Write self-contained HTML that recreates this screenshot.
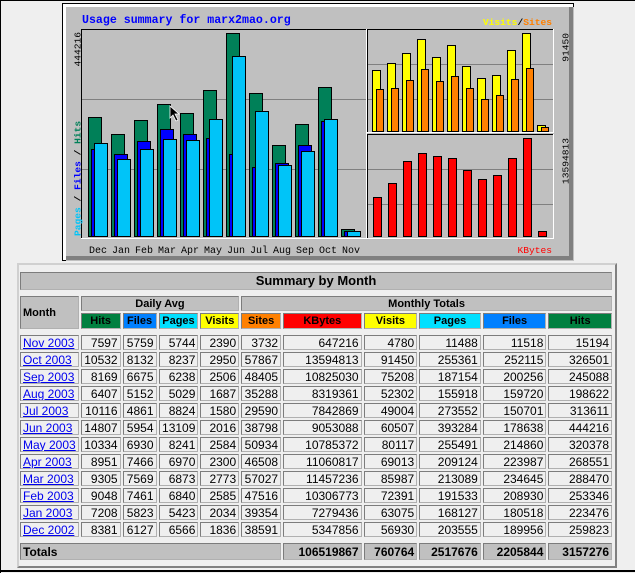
<!DOCTYPE html>
<html><head><meta charset="utf-8">
<style>
html,body{margin:0;padding:0;}
body{width:635px;height:573px;background:#efefef;position:relative;overflow:hidden;font-family:"Liberation Sans",sans-serif;}
#frame{position:absolute;left:0;top:0;width:635px;height:573px;box-sizing:border-box;border-left:1px solid #000;border-top:1px solid #000;}
#bot{position:absolute;left:0;top:570px;width:635px;height:2px;background:#000;}
svg{position:absolute;left:0;top:0;}
#tbox{position:absolute;left:17px;top:263px;width:600px;height:305px;box-sizing:border-box;border:2px solid;border-color:#d0d0d0 #808080 #808080 #d0d0d0;}
table{position:absolute;left:-1px;top:5px;border-collapse:separate;border-spacing:2px;table-layout:fixed;}
td{padding:0;border:1px solid;border-color:#7c7c7c #b0b0b0 #b0b0b0 #7c7c7c;font-size:12px;line-height:12px;background:#efefef;text-align:right;padding-right:2px;box-sizing:border-box;overflow:hidden;white-space:nowrap;}
td.h{background:#c0c0c0;text-align:center;font-weight:bold;font-size:11px;padding:0;}
td.m{text-align:left;padding-left:2px;}
td.m a{color:#0000ee;text-decoration:underline;}
tr.sp td{border:none;background:transparent;}
tr.t td{background:#c0c0c0;font-weight:bold;}
</style></head><body>
<div id="frame"></div><div id="bot"></div>
<svg width="635" height="573" viewBox="0 0 635 573" xmlns="http://www.w3.org/2000/svg">
<rect x="62.5" y="3.5" width="511" height="257" fill="#fff" stroke="#000"/>
<rect x="66" y="7" width="508" height="254" fill="#c0c0c0"/>
<rect x="569" y="7" width="4" height="253" fill="#808080"/>
<rect x="66" y="256" width="507" height="4" fill="#808080"/>
<text x="82" y="23" font-family="Liberation Mono,monospace" font-weight="bold" font-size="11.6" fill="#0000ff">Usage summary for marx2mao.org</text>
<g stroke="#808080" stroke-width="1"><line x1="82" y1="99.5" x2="366" y2="99.5"/><line x1="82" y1="169.5" x2="366" y2="169.5"/>
<line x1="367" y1="64.5" x2="553" y2="64.5"/><line x1="367" y1="99.5" x2="553" y2="99.5"/>
<line x1="367" y1="169.5" x2="553" y2="169.5"/><line x1="367" y1="204.5" x2="553" y2="204.5"/></g>
<path d="M81.5 238V29.5H366" fill="none" stroke="#000"/><path d="M366.5 29V238.5H81" fill="none" stroke="#fff"/>
<path d="M367.5 132V29.5H553" fill="none" stroke="#000"/><path d="M553.5 29V132.5H367" fill="none" stroke="#fff"/>
<path d="M367.5 238V134.5H553" fill="none" stroke="#000"/><path d="M553.5 134V238.5H367" fill="none" stroke="#fff"/>
<g stroke="#000" stroke-width="1">
<g fill="#008058">
<rect x="88.5" y="117.5" width="13" height="119"/><rect x="111.5" y="134.5" width="13" height="102"/><rect x="134.5" y="120.5" width="13" height="116"/><rect x="157.5" y="104.5" width="13" height="132"/><rect x="180.5" y="113.5" width="13" height="123"/><rect x="203.5" y="90.5" width="13" height="146"/><rect x="226.5" y="33.5" width="13" height="203"/><rect x="249.5" y="93.5" width="13" height="143"/><rect x="272.5" y="145.5" width="13" height="91"/><rect x="295.5" y="124.5" width="13" height="112"/><rect x="318.5" y="87.5" width="13" height="149"/><rect x="341.5" y="229.5" width="13" height="7"/>
</g>
<g fill="#0000ff">
<rect x="91.5" y="149.5" width="13" height="87"/><rect x="114.5" y="154.5" width="13" height="82"/><rect x="137.5" y="141.5" width="13" height="95"/><rect x="160.5" y="129.5" width="13" height="107"/><rect x="183.5" y="134.5" width="13" height="102"/><rect x="206.5" y="138.5" width="13" height="98"/><rect x="229.5" y="154.5" width="13" height="82"/><rect x="252.5" y="167.5" width="13" height="69"/><rect x="275.5" y="163.5" width="13" height="73"/><rect x="298.5" y="145.5" width="13" height="91"/><rect x="321.5" y="121.5" width="13" height="115"/><rect x="344.5" y="231.5" width="13" height="5"/>
</g>
<g fill="#00c4f8">
<rect x="94.5" y="143.5" width="13" height="93"/><rect x="117.5" y="159.5" width="13" height="77"/><rect x="140.5" y="149.5" width="13" height="87"/><rect x="163.5" y="139.5" width="13" height="97"/><rect x="186.5" y="140.5" width="13" height="96"/><rect x="209.5" y="119.5" width="13" height="117"/><rect x="232.5" y="56.5" width="13" height="180"/><rect x="255.5" y="111.5" width="13" height="125"/><rect x="278.5" y="165.5" width="13" height="71"/><rect x="301.5" y="151.5" width="13" height="85"/><rect x="324.5" y="119.5" width="13" height="117"/><rect x="347.5" y="231.5" width="13" height="5"/>
</g>
<g fill="#ffff00">
<rect x="372.5" y="70.5" width="8" height="61"/><rect x="387.5" y="63.5" width="8" height="68"/><rect x="402.5" y="53.5" width="8" height="78"/><rect x="417.5" y="39.5" width="8" height="92"/><rect x="432.5" y="57.5" width="8" height="74"/><rect x="447.5" y="45.5" width="8" height="86"/><rect x="462.5" y="66.5" width="8" height="65"/><rect x="477.5" y="78.5" width="8" height="53"/><rect x="492.5" y="75.5" width="8" height="56"/><rect x="507.5" y="50.5" width="8" height="81"/><rect x="522.5" y="33.5" width="8" height="98"/><rect x="537.5" y="125.5" width="8" height="6"/>
</g>
<g fill="#ff8000">
<rect x="376.5" y="89.5" width="7" height="42"/><rect x="391.5" y="88.5" width="7" height="43"/><rect x="406.5" y="80.5" width="7" height="51"/><rect x="421.5" y="69.5" width="7" height="62"/><rect x="436.5" y="81.5" width="7" height="50"/><rect x="451.5" y="76.5" width="7" height="55"/><rect x="466.5" y="88.5" width="7" height="43"/><rect x="481.5" y="99.5" width="7" height="32"/><rect x="496.5" y="95.5" width="7" height="36"/><rect x="511.5" y="79.5" width="7" height="52"/><rect x="526.5" y="68.5" width="7" height="63"/><rect x="541.5" y="127.5" width="7" height="4"/>
</g>
<g fill="#ff0000">
<rect x="373.5" y="197.5" width="8" height="39"/><rect x="388.5" y="183.5" width="8" height="53"/><rect x="403.5" y="161.5" width="8" height="75"/><rect x="418.5" y="153.5" width="8" height="83"/><rect x="433.5" y="156.5" width="8" height="80"/><rect x="448.5" y="158.5" width="8" height="78"/><rect x="463.5" y="170.5" width="8" height="66"/><rect x="478.5" y="179.5" width="8" height="57"/><rect x="493.5" y="175.5" width="8" height="61"/><rect x="508.5" y="158.5" width="8" height="78"/><rect x="523.5" y="138.5" width="8" height="98"/><rect x="538.5" y="231.5" width="8" height="5"/>
</g>
</g>
<g font-family="Liberation Mono,monospace" font-size="10" fill="#000" text-anchor="middle">
<text x="98" y="253">Dec</text><text x="121" y="253">Jan</text><text x="144" y="253">Feb</text><text x="167" y="253">Mar</text><text x="190" y="253">Apr</text><text x="213" y="253">May</text><text x="236" y="253">Jun</text><text x="259" y="253">Jul</text><text x="282" y="253">Aug</text><text x="305" y="253">Sep</text><text x="328" y="253">Oct</text><text x="351" y="253">Nov</text>
</g>
<g font-family="Liberation Mono,monospace" font-size="9.6">
<text transform="translate(80.5,32) rotate(-90)" text-anchor="end">444216</text>
<text transform="translate(80.5,236) rotate(-90)" font-weight="bold"><tspan fill="#00c4f8">Pages</tspan><tspan fill="#000"> / </tspan><tspan fill="#0000ff">Files</tspan><tspan fill="#000"> / </tspan><tspan fill="#008058">Hits</tspan></text>
<text transform="translate(568.5,33) rotate(-90)" text-anchor="end">91450</text>
<text transform="translate(568.5,138) rotate(-90)" text-anchor="end">13594813</text>
<text x="552" y="25" text-anchor="end" font-weight="bold"><tspan fill="#ffff00">Visits</tspan><tspan fill="#000">/</tspan><tspan fill="#ff8000">Sites</tspan></text>
<text x="552" y="253" text-anchor="end" fill="#ff0000">KBytes</text>
</g>
<path d="M170 106 L170 118 L173 115 L176 121 L178 120 L175 114 L179 114 Z" fill="#000" stroke="#fff" stroke-width="0.8"/>
</svg>
<div id="tbox">
<table>
<colgroup><col style="width:57px"><col style="width:40px"><col style="width:34px"><col style="width:40px"><col style="width:39px"><col style="width:40px"><col style="width:79px"><col style="width:54px"><col style="width:62px"><col style="width:64px"><col style="width:64px"></colgroup>
<tr style="height:18px"><td class="h" colspan="11" style="font-size:13px">Summary by Month</td></tr>
<tr class="sp" style="height:2px"><td colspan="11"></td></tr>
<tr style="height:15px"><td class="h" rowspan="2" style="text-align:left;padding-left:2px">Month</td><td class="h" colspan="4">Daily Avg</td><td class="h" colspan="6">Monthly Totals</td></tr>
<tr style="height:16px"><td class="h" style="background:#008040">Hits</td><td class="h" style="background:#0080ff">Files</td><td class="h" style="background:#00e0ff">Pages</td><td class="h" style="background:#ffff00">Visits</td><td class="h" style="background:#ff8000">Sites</td><td class="h" style="background:#ff0000">KBytes</td><td class="h" style="background:#ffff00">Visits</td><td class="h" style="background:#00e0ff">Pages</td><td class="h" style="background:#0080ff">Files</td><td class="h" style="background:#008040">Hits</td></tr>
<tr class="sp" style="height:2px"><td colspan="11"></td></tr>
<tr style="height:15px"><td class="m"><a>Nov 2003</a></td><td>7597</td><td>5759</td><td>5744</td><td>2390</td><td>3732</td><td>647216</td><td>4780</td><td>11488</td><td>11518</td><td>15194</td></tr>
<tr style="height:15px"><td class="m"><a>Oct 2003</a></td><td>10532</td><td>8132</td><td>8237</td><td>2950</td><td>57867</td><td>13594813</td><td>91450</td><td>255361</td><td>252115</td><td>326501</td></tr>
<tr style="height:15px"><td class="m"><a>Sep 2003</a></td><td>8169</td><td>6675</td><td>6238</td><td>2506</td><td>48405</td><td>10825030</td><td>75208</td><td>187154</td><td>200256</td><td>245088</td></tr>
<tr style="height:15px"><td class="m"><a>Aug 2003</a></td><td>6407</td><td>5152</td><td>5029</td><td>1687</td><td>35288</td><td>8319361</td><td>52302</td><td>155918</td><td>159720</td><td>198622</td></tr>
<tr style="height:15px"><td class="m"><a>Jul 2003</a></td><td>10116</td><td>4861</td><td>8824</td><td>1580</td><td>29590</td><td>7842869</td><td>49004</td><td>273552</td><td>150701</td><td>313611</td></tr>
<tr style="height:15px"><td class="m"><a>Jun 2003</a></td><td>14807</td><td>5954</td><td>13109</td><td>2016</td><td>38798</td><td>9053088</td><td>60507</td><td>393284</td><td>178638</td><td>444216</td></tr>
<tr style="height:15px"><td class="m"><a>May 2003</a></td><td>10334</td><td>6930</td><td>8241</td><td>2584</td><td>50934</td><td>10785372</td><td>80117</td><td>255491</td><td>214860</td><td>320378</td></tr>
<tr style="height:15px"><td class="m"><a>Apr 2003</a></td><td>8951</td><td>7466</td><td>6970</td><td>2300</td><td>46508</td><td>11060817</td><td>69013</td><td>209124</td><td>223987</td><td>268551</td></tr>
<tr style="height:15px"><td class="m"><a>Mar 2003</a></td><td>9305</td><td>7569</td><td>6873</td><td>2773</td><td>57027</td><td>11457236</td><td>85987</td><td>213089</td><td>234645</td><td>288470</td></tr>
<tr style="height:15px"><td class="m"><a>Feb 2003</a></td><td>9048</td><td>7461</td><td>6840</td><td>2585</td><td>47516</td><td>10306773</td><td>72391</td><td>191533</td><td>208930</td><td>253346</td></tr>
<tr style="height:15px"><td class="m"><a>Jan 2003</a></td><td>7208</td><td>5823</td><td>5423</td><td>2034</td><td>39354</td><td>7279436</td><td>63075</td><td>168127</td><td>180518</td><td>223476</td></tr>
<tr style="height:15px"><td class="m"><a>Dec 2002</a></td><td>8381</td><td>6127</td><td>6566</td><td>1836</td><td>38591</td><td>5347856</td><td>56930</td><td>203555</td><td>189956</td><td>259823</td></tr>
<tr class="sp" style="height:2px"><td colspan="11"></td></tr>
<tr class="t" style="height:17px"><td colspan="6" style="text-align:left;padding-left:2px">Totals</td><td>106519867</td><td>760764</td><td>2517676</td><td>2205844</td><td>3157276</td></tr>
</table>
</div>
</body></html>
